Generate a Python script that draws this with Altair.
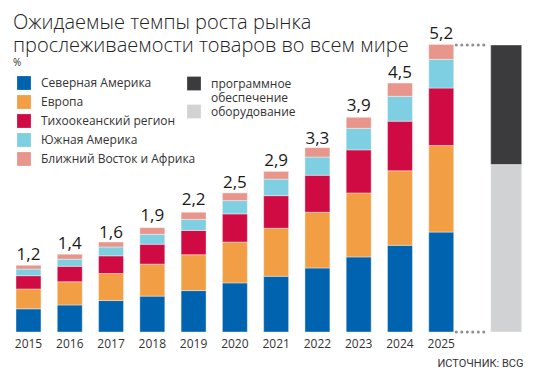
import altair as alt
import pandas as pd

years = ["2015", "2016", "2017", "2018", "2019", "2020", "2021", "2022", "2023", "2024", "2025"]
split_cat = " "
regions = ["Северная Америка", "Европа", "Тихоокеанский регион", "Южная Америка", "Ближний Восток и Африка"]
region_colors = ["#0063b0", "#f29e44", "#d00a42", "#7ecfe1", "#e8958b"]

north_america = [0.42, 0.49, 0.57, 0.65, 0.75, 0.89, 1.01, 1.16, 1.36, 1.57, 1.81]
europe = [0.36, 0.42, 0.49, 0.58, 0.65, 0.74, 0.87, 1.01, 1.16, 1.35, 1.57]
pacific = [0.24, 0.28, 0.32, 0.36, 0.44, 0.51, 0.59, 0.67, 0.78, 0.90, 1.04]
south_america = [0.12, 0.13, 0.16, 0.18, 0.20, 0.24, 0.30, 0.33, 0.39, 0.45, 0.52]
mideast_africa = [0.07, 0.09, 0.09, 0.12, 0.13, 0.14, 0.14, 0.17, 0.20, 0.24, 0.27]
totals = [1.2, 1.4, 1.6, 1.9, 2.2, 2.5, 2.9, 3.3, 3.9, 4.5, 5.2]

split_labels = ["программное|обеспечение", "оборудование"]
split_colors = ["#3b3b3d", "#d1d2d4"]
split_values = [2.17, 3.03]
split_order = [2, 1]

series = [north_america, europe, pacific, south_america, mideast_africa]
rows = []
for k, (name, vals) in enumerate(zip(regions, series)):
    for y, v in zip(years, vals):
        rows.append({"year": y, "region": name, "value": v, "order": k})
df = pd.DataFrame(rows)

df_lab = pd.DataFrame({"year": years, "total": totals,
                       "label": [f"{t:.1f}".replace(".", ",") for t in totals]})
df_split = pd.DataFrame({"year": [split_cat] * 2, "part": split_labels,
                         "value": split_values, "order": split_order})
df_dots = pd.DataFrame({"v": [totals[-1], 0]})

cats = years + [split_cat]
FONT = "Open Sans"
LIGHT = "'Open Sans Light', 'Open Sans'"
xscale = alt.Scale(domain=cats, paddingInner=0.395, paddingOuter=0.194)
yscale = alt.Scale(domain=[0, 5.87], nice=False, zero=True)

xaxis = alt.Axis(title="ИСТОЧНИК: BCG", titleX=515, titleY=34, titleAlign="right",
                 titleAnchor="end", titleBaseline="alphabetic", titleFont="Roboto",
                 titleFontSize=11, titleFontWeight="normal", titleColor="#333",
                 labelAngle=0, labelFont=FONT, labelFontSize=12, labelColor="#333",
                 labelPadding=6, domain=False, ticks=False, grid=False)

bars = alt.Chart(df).mark_bar(stroke="white", strokeWidth=0.4).encode(
    x=alt.X("year:N", scale=xscale, axis=xaxis, sort=cats),
    y=alt.Y("value:Q", stack="zero", scale=yscale, axis=None),
    color=alt.Color("region:N", scale=alt.Scale(domain=regions, range=region_colors),
                    legend=alt.Legend(title=None, orient="none", legendX=9, legendY=68,
                                      symbolType="square", symbolSize=190, symbolStrokeWidth=0,
                                      labelFont=FONT, labelFontSize=12, labelColor="#333",
                                      rowPadding=5, labelOffset=10, padding=0)),
    order=alt.Order("order:Q"),
)

split_bar = alt.Chart(df_split).mark_bar(width=31, xOffset=23.7, stroke="white", strokeWidth=0.4).encode(
    x=alt.X("year:N", scale=xscale, sort=cats),
    y=alt.Y("value:Q", stack="zero", scale=yscale, axis=None),
    color=alt.Color("part:N", scale=alt.Scale(domain=split_labels, range=split_colors),
                    legend=alt.Legend(title=None, orient="none", legendX=179, legendY=68.5,
                                      symbolType="square", symbolSize=190, symbolStrokeWidth=0,
                                      labelFont=FONT, labelFontSize=12, labelColor="#333",
                                      labelExpr="split(datum.label, '|')", labelBaseline="middle",
                                      labelOffset=10, rowPadding=1, padding=0)),
    order=alt.Order("order:Q"),
)

labels = alt.Chart(df_lab).mark_text(font=FONT, fontSize=17, color="#1a1a1a",
                                     baseline="alphabetic", dy=-6).encode(
    x=alt.X("year:N", scale=xscale, sort=cats),
    y=alt.Y("total:Q", scale=yscale, axis=None),
    text="label:N",
)

dots = alt.Chart(df_dots).mark_rule(xOffset=15, x2Offset=5, strokeDash=[0.1, 5.4], strokeCap="round",
                                    strokeWidth=3, color="#8f8f8f").encode(
    x=alt.datum("2025", scale=xscale),
    x2=alt.datum(split_cat),
    y=alt.Y("v:Q", scale=yscale, axis=None),
)

chart = alt.layer(bars, split_bar, dots, labels).resolve_scale(color="independent").properties(
    width=495, height=324,
    padding={"left": 0, "top": 0, "right": 28, "bottom": 40},
    autosize=alt.AutoSizeParams(type="none"),
    title=alt.Title(text=["Ожидаемые темпы роста рынка", "прослеживаемости товаров во всем мире"],
                    subtitle="%", anchor="start", frame="group", orient="top", offset=-60,
                    dx=5, fontSize=20, fontWeight=300, font=LIGHT, color="#222", lineHeight=23,
                    subtitleFont=FONT, subtitleFontSize=10, subtitleColor="#333", subtitlePadding=2),
).configure_view(stroke=None)

chart.save("out.html", embed_options={"renderer": "svg", "actions": False})
